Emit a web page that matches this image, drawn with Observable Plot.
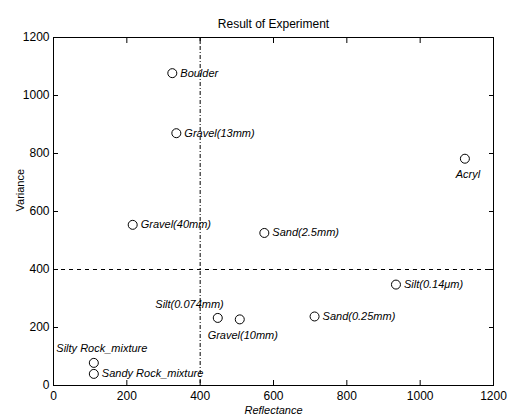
<!DOCTYPE html>
<html>
<head>
<meta charset="utf-8">
<script src="https://cdn.jsdelivr.net/npm/d3@7"></script>
<script src="https://cdn.jsdelivr.net/npm/@observablehq/plot@0.6"></script>
<style>
  html, body { margin: 0; padding: 0; background: #fff; }
</style>
</head>
<body>
<div id="chart"></div>
<script>
const names = ["Boulder", "Gravel(13mm)", "Gravel(40mm)", "Sand(2.5mm)", "Acryl", "Silt(0.14\u03bcm)", "Sand(0.25mm)", "Silt(0.074mm)", "Gravel(10mm)", "Silty Rock_mixture", "Sandy Rock_mixture"];
const reflectance = [324, 335, 216, 575, 1122, 934, 712, 448, 508, 110, 110];
const variance = [1077, 870, 554, 526, 782, 348, 238, 233, 228, 78, 40];
const labelSide = ["right", "right", "right", "right", "below", "right", "right", "aboveLeft", "below", "above", "right"];
const xTicks = [0, 200, 400, 600, 800, 1000, 1200];
const yTicks = [0, 200, 400, 600, 800, 1000, 1200];
const thresholdX = [400];
const thresholdY = [400];

const data = names.map((n, i) => ({name: n, x: reflectance[i], y: variance[i], side: labelSide[i]}));
const bySide = s => data.filter(d => d.side === s);

const chart = Plot.plot({
  width: 508,
  height: 419,
  marginLeft: 53,
  marginRight: 15,
  marginTop: 37,
  marginBottom: 34,
  style: {fontFamily: "'Liberation Sans', Arial, sans-serif", fontSize: "12px", background: "#fff", color: "#000"},
  x: {domain: [0, 1200]},
  y: {domain: [0, 1200]},
  marks: [
    Plot.ruleX(thresholdX, {stroke: "#000", strokeWidth: 1, strokeDasharray: "4,2,1,2"}),
    Plot.ruleY(thresholdY, {stroke: "#000", strokeWidth: 1, strokeDasharray: "4,4"}),
    Plot.frame({stroke: "#000", strokeWidth: 1}),
    Plot.axisX({ticks: xTicks, tickSize: -5, tickPadding: 11, tickFormat: d => String(d), label: null}),
    Plot.axisX({anchor: "top", ticks: xTicks, tickSize: -5, tickFormat: () => "", label: null}),
    Plot.axisY({ticks: yTicks, tickSize: -5, tickPadding: 9, tickFormat: d => String(d), label: null}),
    Plot.axisY({anchor: "right", ticks: yTicks, tickSize: -5, tickFormat: () => "", label: null}),
    Plot.dot(data, {x: "x", y: "y", r: 4.5, stroke: "#000", strokeWidth: 1, fill: "#fff"}),
    Plot.text(bySide("right"), {x: "x", y: "y", text: "name", textAnchor: "start", dx: 8, fontStyle: "italic", fontSize: 11}),
    Plot.text(bySide("below"), {x: "x", y: "y", text: "name", textAnchor: "middle", dx: 3, dy: 16, fontStyle: "italic", fontSize: 11}),
    Plot.text(bySide("aboveLeft"), {x: "x", y: "y", text: "name", textAnchor: "end", dx: 6, dy: -13, fontStyle: "italic", fontSize: 11}),
    Plot.text(bySide("above"), {x: "x", y: "y", text: "name", textAnchor: "middle", dx: 8, dy: -14, fontStyle: "italic", fontSize: 11}),
    Plot.text(["Result of Experiment"], {frameAnchor: "top", dy: -18, fontSize: 12}),
    Plot.text(["Reflectance"], {frameAnchor: "bottom", dy: 28, fontSize: 11, fontStyle: "italic"}),
    Plot.text(["Variance"], {frameAnchor: "left", dx: -33, rotate: -90, fontSize: 11})
  ]
});
document.getElementById("chart").appendChild(chart);
</script>
</body>
</html>
